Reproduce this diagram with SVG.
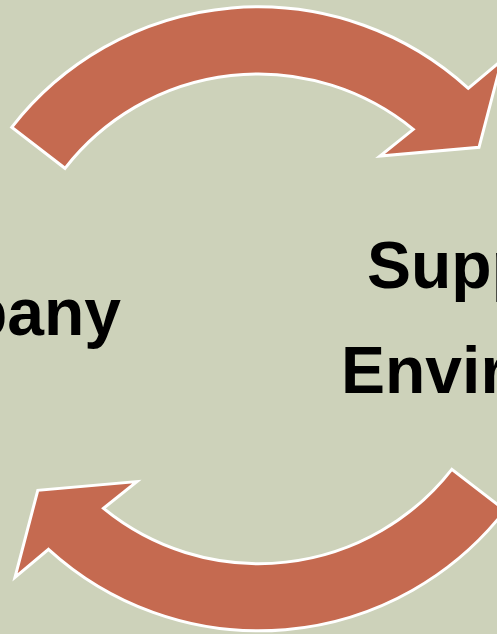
<svg xmlns="http://www.w3.org/2000/svg" width="497" height="634" viewBox="0 0 497 634">
<style>
.arrow{fill:#C56A50;stroke:#FFFFFF;stroke-width:3;stroke-linejoin:miter}
.lbl{font-family:"Liberation Sans",Arial,sans-serif;font-weight:bold;font-size:66px;fill:#000000}
</style>
<defs>
<path id="arc" d="M 11.7,127.3 A 312 312 0 0 1 468.3,88.3 L 501.8,60.3 L 479,147.3 L 380,156 L 413.3,129.3 A 245 245 0 0 0 65,168.3 Z"/>
</defs>
<rect x="0" y="0" width="497" height="634" fill="#CDD2BA"/>
<g id="connectors">
<use href="#arc" class="arrow"/>
<use href="#arc" class="arrow" transform="rotate(180 258.4 318.8)"/>
</g>
<g id="node-company">
<text class="lbl" x="121" y="335" text-anchor="end">pany</text>
</g>
<g id="node-supplier">
<text class="lbl" x="367" y="288">Supp</text>
<text class="lbl" x="341" y="393">Envir</text>
</g>
</svg>
